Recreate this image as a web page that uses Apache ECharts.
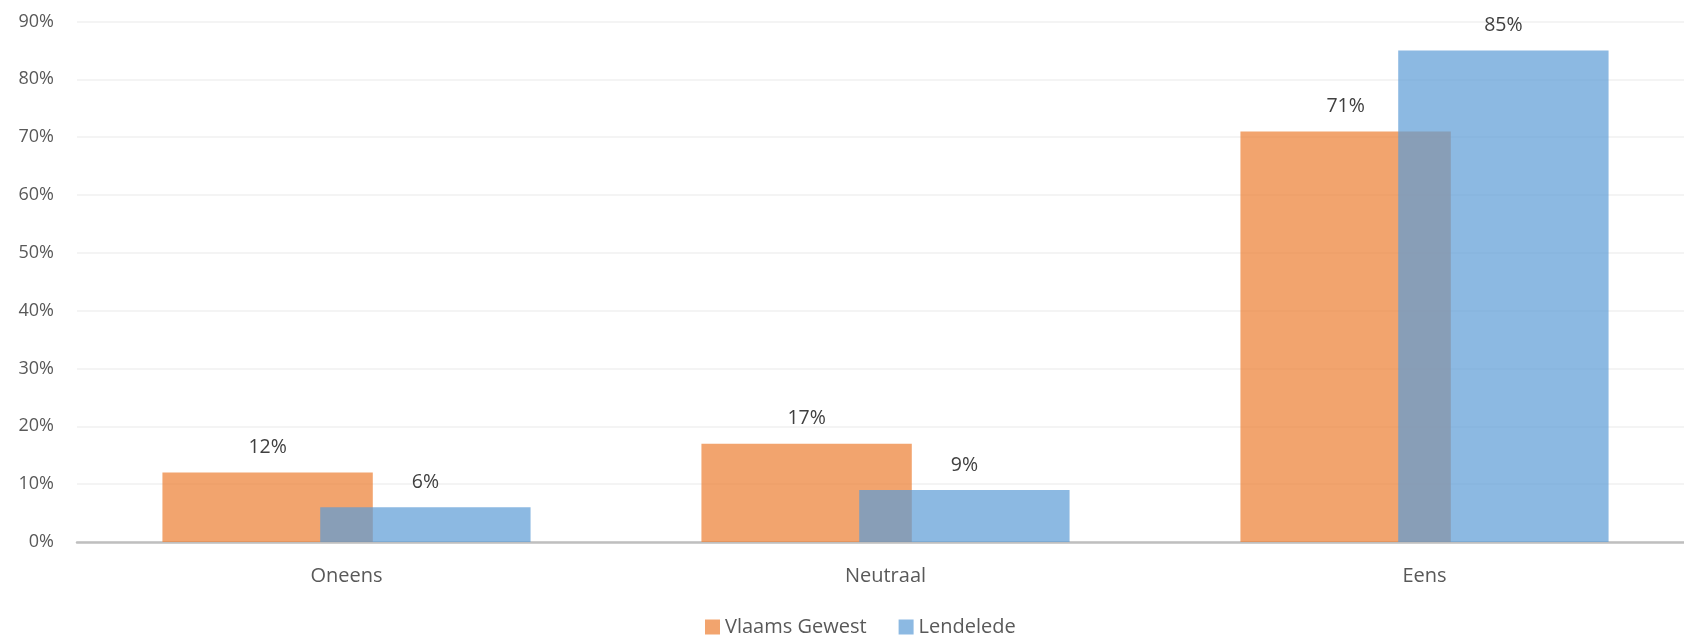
<!DOCTYPE html>
<html>
<head>
<meta charset="utf-8">
<script src="https://cdn.jsdelivr.net/npm/echarts@6/dist/echarts.min.js"></script>
<style>
  html, body { margin: 0; padding: 0; background: #fff; overflow: hidden; }
  #chart { width: 1694px; height: 638px; }
</style>
</head>
<body>
<div id="chart"></div>
<script>
// categorieën en waarden (in %)
var categories = ['Oneens', 'Neutraal', 'Eens'];
var vlaamsGewest = [12, 17, 71];
var lendelede = [6, 9, 85];
var yTicks = [0, 10, 20, 30, 40, 50, 60, 70, 80, 90];

var chart = echarts.init(document.getElementById('chart'));

var labelStyle = {
  show: true,
  position: 'top',
  distance: 15,
  formatter: '{c}%',
  color: '#404040',
  fontSize: 19.5,
  fontFamily: 'Open Sans'
};

var option = {
  animation: false,
  textStyle: { fontFamily: 'Open Sans' },
  // plot loopt iets voorbij de rechterrand, zoals in het origineel
  grid: { left: 77, right: 0, top: 21.5, bottom: 96, containLabel: false },
  legend: {
    top: 612,
    left: 700,
    itemWidth: 15,
    itemHeight: 15,
    itemGap: 32,
    icon: 'rect',
    textStyle: { color: '#595959', fontSize: 20, fontFamily: 'Open Sans' },
    data: ['Vlaams Gewest', 'Lendelede']
  },
  xAxis: {
    type: 'category',
    data: categories,
    axisTick: { show: false },
    axisLine: { lineStyle: { color: '#BFBFBF', width: 2.5 } },
    axisLabel: { color: '#595959', fontSize: 20, margin: 24 }
  },
  yAxis: {
    type: 'value',
    min: yTicks[0],
    max: yTicks[yTicks.length - 1],
    interval: 10,
    axisLine: { show: false },
    axisTick: { show: false },
    axisLabel: { color: '#595959', fontSize: 18, margin: 23, formatter: '{value}%' },
    splitLine: { lineStyle: { color: '#F0F0F0', width: 1.5 } }
  },
  series: [
    {
      name: 'Vlaams Gewest',
      type: 'bar',
      data: vlaamsGewest,
      barGap: '-25%',
      barCategoryGap: '31.7%',
      itemStyle: { color: 'rgba(237,125,49,0.7)' },
      label: labelStyle
    },
    {
      name: 'Lendelede',
      type: 'bar',
      data: lendelede,
      barGap: '-25%',
      barCategoryGap: '31.7%',
      itemStyle: { color: 'rgba(91,155,213,0.7)' },
      label: labelStyle
    }
  ]
};

chart.setOption(option);
</script>
</body>
</html>
